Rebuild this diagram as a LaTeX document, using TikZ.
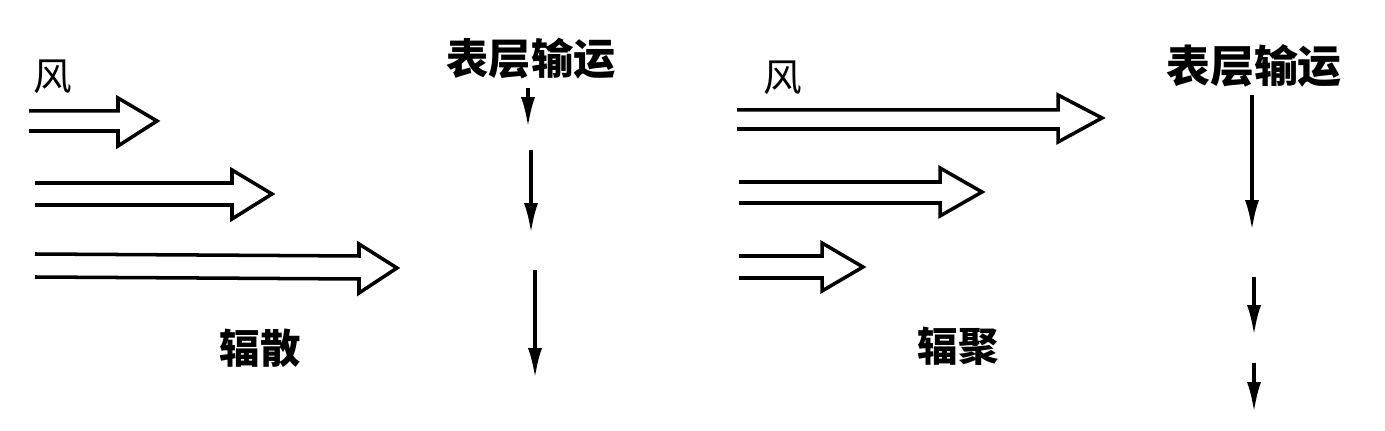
\documentclass[tikz,border=0pt]{standalone}
\usepackage{fontspec}
\newfontfamily\cjk{Noto Sans CJK SC}
\usetikzlibrary{arrows.meta}
\begin{document}
\begin{tikzpicture}[x=0.02cm,y=-0.02cm]
\tikzstyle{every node}=[font=\cjk\fontsize{24}{24}\selectfont,inner sep=0pt];
\tikzstyle{wind}=[line width=2pt,line join=miter];
\tikzstyle{transport}=[line width=1.9pt,-{Latex[length=17pt,width=8pt]}];
\useasboundingbox (0,0) rectangle (1385,431);
\node[font=\cjk\fontsize{22}{22}\selectfont] (windL) at (53,77) {风};
\node[font=\cjk\bfseries\fontsize{24}{24}\selectfont] (surfL) at (531,59) {表层输运};
\node[font=\cjk\bfseries\fontsize{23}{23}\selectfont] (divL) at (260,348) {辐散};
\node[font=\cjk\fontsize{22}{22}\selectfont] (windR) at (783,78) {风};
\node[font=\cjk\bfseries\fontsize{25}{25}\selectfont] (surfR) at (1254,66) {表层输运};
\node[font=\cjk\bfseries\fontsize{23}{23}\selectfont] (convR) at (958,346) {辐聚};
\draw[wind] (29,111) -- (118,111) -- (118,98) -- (157,121) -- (118,146) -- (118,131) -- (29,131);
\draw[wind] (35,183) -- (232,183) -- (232,170) -- (272,194) -- (232,219) -- (232,205) -- (35,205);
\draw[wind] (35,254) -- (359,256) -- (359,244) -- (397,268) -- (359,293) -- (359,279) -- (35,277);
\draw[wind] (737,110) -- (1058,110) -- (1058,95) -- (1102,118) -- (1058,142) -- (1058,129) -- (737,129);
\draw[wind] (739,182) -- (940,182) -- (940,168) -- (982,192) -- (940,216) -- (940,203) -- (739,203);
\draw[wind] (739,256) -- (822,256) -- (822,243) -- (863,267) -- (822,291) -- (822,278) -- (739,278);
\draw[transport] (528,88) -- (528,127);
\draw[transport] (531,150) -- (531,233);
\draw[transport] (535,270) -- (535,378);
\draw[transport] (1252,95) -- (1252,230);
\draw[transport] (1254,277) -- (1254,335);
\draw[transport] (1254,363) -- (1254,412);
\end{tikzpicture}
\end{document}
